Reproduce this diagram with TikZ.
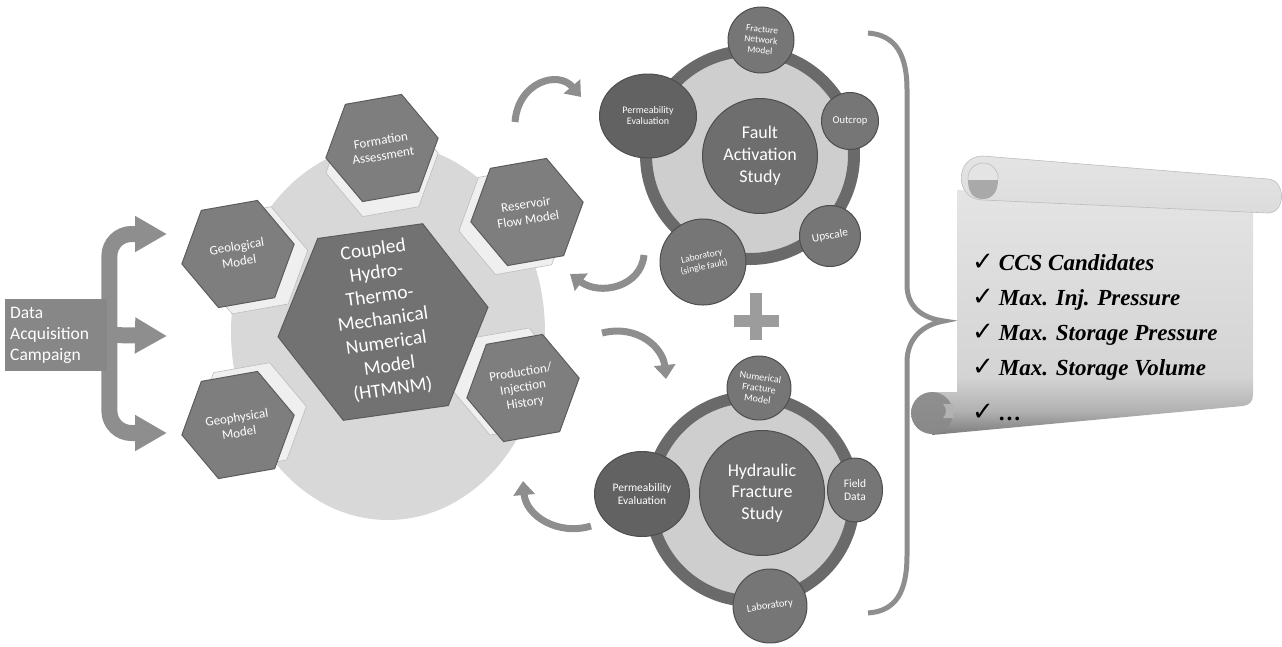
\documentclass[tikz,border=0pt]{standalone}
\usepackage{fontspec}
\setmainfont{Carlito}
\newfontfamily\listfont{Liberation Serif}
\newfontfamily\tickfont{DejaVu Sans}
\usetikzlibrary{shapes.geometric,arrows.meta,calc,backgrounds}

\definecolor{discgray}{HTML}{D8D8D8}
\definecolor{hexgray}{HTML}{7E7E7E}
\definecolor{hexedge}{HTML}{5C5C5C}
\definecolor{coregray}{HTML}{727272}
\definecolor{tabgray}{HTML}{EFEFEF}
\definecolor{tabedge}{HTML}{BDBDBD}
\definecolor{arrowgray}{HTML}{8E8E8E}
\definecolor{ringgray}{HTML}{6A6A6A}
\definecolor{innergray}{HTML}{CECECE}
\definecolor{satgray}{HTML}{767676}
\definecolor{permgray}{HTML}{626262}
\definecolor{hubgray}{HTML}{6E6E6E}
\definecolor{satedge}{HTML}{4E4E4E}
\definecolor{plusgray}{HTML}{9C9C9C}
\definecolor{paperpale}{HTML}{E4E4E4}
\definecolor{paperlight}{HTML}{D4D4D4}
\definecolor{papermid}{HTML}{B2B2B2}
\definecolor{paperdark}{HTML}{7C7C7C}
\definecolor{rollgray}{HTML}{DCDCDC}
\definecolor{curlgray}{HTML}{A9A9A9}

\pgfdeclareverticalshading{paper}{100bp}{color(0bp)=(paperdark); color(25bp)=(paperdark);
  color(30bp)=(papermid); color(37bp)=(paperlight); color(75bp)=(paperpale); color(100bp)=(paperpale)}

\newcommand\tck{{\tickfont\mdseries\upshape\fontsize{26}{26}\selectfont ✓}\hspace{5pt}}

\tikzset{
  hexa/.style={regular polygon, regular polygon sides=6, minimum size=114pt, inner sep=0pt,
    fill=hexgray, draw=hexedge, line width=1pt, rotate=10},
  hextext/.style={text=white, align=center, inner sep=0pt, rotate=9,
    font=\fontsize{13}{15.5}\selectfont},
  tabhex/.style={fill=tabgray, draw=tabedge, line width=.6pt},
  sat/.style={circle, fill=satgray, draw=satedge, line width=1pt, text=white, align=center,
    inner sep=0pt, font=\fontsize{10}{11}\selectfont},
  perm/.style={ellipse, fill=permgray, draw=satedge, line width=1pt, text=white, align=center,
    inner sep=0pt, font=\fontsize{10}{11}\selectfont},
  hub/.style={circle, fill=hubgray, draw=satedge, line width=1pt, text=white, align=center,
    inner sep=0pt, font=\fontsize{18}{22}\selectfont},
  rim/.style={circle, draw=ringgray, line width=12pt, fill=innergray},
  dacarrow/.style={draw=arrowgray, line width=16pt, rounded corners=22pt,
    -{Triangle[length=32pt,width=34pt]}},
  curvy/.style={draw=arrowgray, line width=7pt, -{Triangle[length=14pt,width=21pt]}},
}

\begin{document}
\begin{tikzpicture}[x=1pt, y=-1pt]
\useasboundingbox (0,0) rectangle (1282,646);

% model disc with the input hexagons
\node[ellipse, fill=discgray, minimum width=314pt, minimum height=376pt] (disc) at (388,332) {};
\foreach \x/\y in {382/148, 238/254, 238/425, 527/212, 523/388}
  \node[hexa, tabhex] at ($(\x,\y)!15pt!(383,321)$) {};
\node[hexa, minimum size=212pt, fill=coregray, rotate=-2] (htm) at (383,322) {};
\node[hextext, rotate=-1, font=\fontsize{19.5}{23.5}\selectfont] (htm-t) at (383,320)
  {Coupled\\Hydro-\\Thermo-\\Mechanical\\Numerical\\Model\\(HTMNM)};
\node[hexa] (fa) at (382,148) {};
\node[hextext] (fa-t) at (fa) {Formation\\Assessment};
\node[hexa] (geo) at (238,254) {};
\node[hextext] (geo-t) at (geo) {Geological\\Model};
\node[hexa] (gph) at (238,425) {};
\node[hextext] (gph-t) at (gph) {Geophysical\\Model};
\node[hexa] (rfm) at (527,212) {};
\node[hextext] (rfm-t) at (rfm) {Reservoir\\Flow Model};
\node[hexa] (pih) at (523,388) {};
\node[hextext] (pih-t) at (pih) {Production/\\Injection\\History};

% data acquisition fork
\node[anchor=west, fill=arrowgray!95!black, text=white, text width=92pt, inner xsep=5pt,
  minimum height=72pt, align=left, font=\fontsize{17.5}{21}\selectfont]
  (dac) at (5,335) {Data\\Acquisition\\Campaign};
\coordinate (geoin) at (167,234);
\coordinate (midin) at (167,336);
\coordinate (gphin) at (167,433);
\begin{scope}[on background layer]
  \draw[dacarrow] ([xshift=2pt]dac.east) |- (geoin);
  \draw[dacarrow] ([xshift=2pt]dac.east) |- (gphin);
  \draw[dacarrow] (dac.east) -- (midin);
\end{scope}

% fault activation study
\node[rim, minimum size=208pt] (farim) at (750,155) {};
\node[hub, minimum size=115pt] (fas) at (760,156) {Fault\\Activation\\Study};
\node[sat, minimum size=66pt, rotate=-6, font=\fontsize{9.5}{10.5}\selectfont] (fnm) at (761,40) {Fracture\\Network\\Model};
\node[sat, minimum size=57pt, font=\fontsize{10.5}{12}\selectfont] (out) at (850,121) {Outcrop};
\node[sat, minimum size=61pt, rotate=10, font=\fontsize{11.5}{12}\selectfont] (ups) at (830,236) {Upscale};
\node[sat, minimum size=86pt, rotate=12, font=\fontsize{9.5}{11}\selectfont] (lab1) at (703,262) {Laboratory\\(single fault)};
\node[perm, minimum width=97pt, minimum height=84pt] (pe1) at (648,116) {Permeability\\Evaluation};

% hydraulic fracture study
\node[rim, minimum size=204pt] (hfrim) at (752,499) {};
\node[hub, minimum size=125pt, font=\fontsize{18}{21.5}\selectfont] (hfs) at (762,493) {Hydraulic\\Fracture\\Study};
\node[sat, minimum size=64pt, rotate=-8] (nfm) at (759,388) {Numerical\\Fracture\\Model};
\node[sat, ellipse, minimum width=55pt, minimum height=64pt, font=\fontsize{11.5}{13}\selectfont] (fd) at (855,490) {Field\\Data};
\node[sat, minimum size=74pt, rotate=8, font=\fontsize{10.5}{12}\selectfont] (lab2) at (770,606) {Laboratory};
\node[perm, minimum width=95pt, minimum height=85pt, font=\fontsize{11.5}{13}\selectfont] (pe2) at (642,494) {Permeability\\Evaluation};

% plus between the two studies
\fill[plusgray] (750,293) rectangle (762,340);
\fill[plusgray] (734,315) rectangle (779,327);

% feedback arrows
\coordinate (c1a) at (515,122); \coordinate (c1b) at (581,97);
\coordinate (c2a) at (644,255); \coordinate (c2b) at (570,274);
\coordinate (c3a) at (602,333); \coordinate (c3b) at (666,379);
\coordinate (c4a) at (591,526); \coordinate (c4b) at (523,481);
\draw[curvy] (c1a) .. controls (518,82) and (558,70) .. (c1b);
\draw[curvy] (c2a) .. controls (641,287) and (600,296) .. (c2b);
\draw[curvy] (c3a) .. controls (638,324) and (663,348) .. (c3b);
\draw[curvy] (c4a) .. controls (558,536) and (526,516) .. (c4b);

% brace
\draw[arrowgray, line width=5pt] (868,33) .. controls (896,35) and (907,55) .. (907,90)
  -- (907,285) .. controls (907,306) and (921,318) .. (944,321)
  .. controls (921,325) and (907,340) .. (907,362)
  -- (907,555) .. controls (907,592) and (896,611) .. (868,613);

% scroll of results
\shade[shading=paper] (957,190) -- (1253,205) -- (1253,395) .. controls (1253,402) and (1249,405) .. (1243,406)
  -- (932,435) -- (932,392) -- (957,392) -- cycle;
\shade[top color=paperpale, bottom color=rollgray, draw=tabedge, line width=.6pt]
  (983,156) -- (1268,179) .. controls (1286,180) and (1286,213) .. (1268,213)
  -- (983,200) .. controls (954,200) and (954,156) .. (983,156) -- cycle;
\filldraw[fill=paperpale, draw=tabedge, line width=.6pt] (983,178) circle[radius=15pt];
\fill[curlgray] (968,180) -- (998,180) .. controls (998,192) and (992,199) .. (983,199)
  .. controls (972,199) and (968,191) .. (968,180) -- cycle;
\shade[top color=paperdark!85, bottom color=paperdark!110!black] (932,413) circle[radius=21pt];
\fill[papermid] (943,404) -- (953,404) -- (953,418) -- (943,418) .. controls (947,414) and (947,408) .. (943,404) -- cycle;
\node[anchor=base west, align=left, inner sep=0pt, font=\listfont\bfseries\itshape\fontsize{23}{35}\selectfont]
  (goals) at (972,420) {\tck CCS Candidates\\
  \tck Max. Inj. Pressure\\
  \tck Max. Storage Pressure\\
  \tck Max. Storage Volume\\[10pt]
  \tck \dots};
\end{tikzpicture}
\end{document}
